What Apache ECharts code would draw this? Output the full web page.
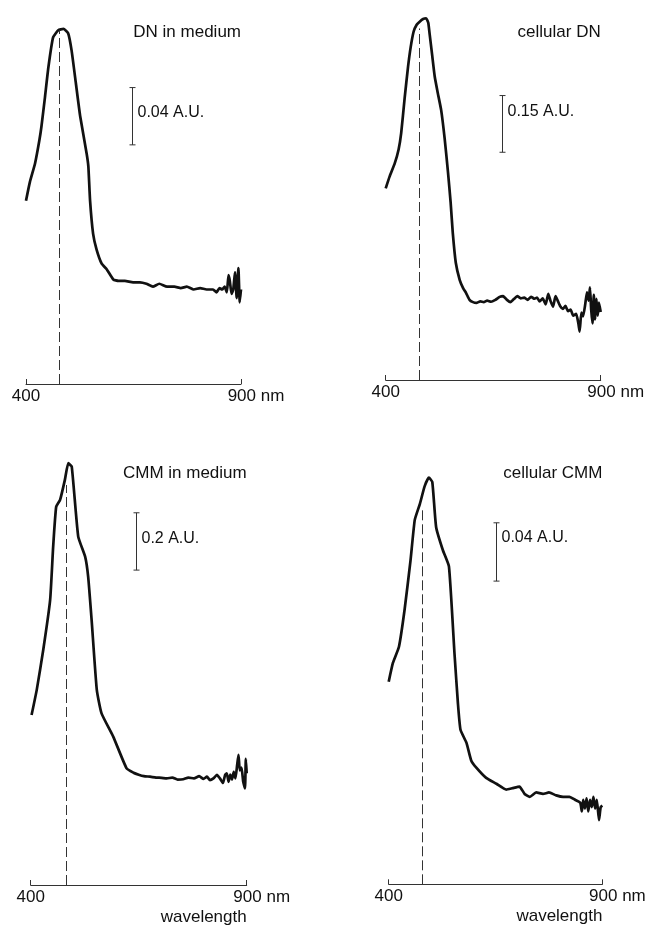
<!DOCTYPE html>
<html>
<head>
<meta charset="utf-8">
<script src="https://cdn.jsdelivr.net/npm/echarts@6/dist/echarts.min.js"></script>
<style>
  html, body { margin: 0; padding: 0; background: #fff; }
  #chart { width: 646px; height: 925px; }
</style>
</head>
<body>
<div id="chart"></div>
<script>
// ---------- Data (wavelength in nm, absorbance in A.U. above the baseline axis) ----------
const panelTitles = ['DN in medium', 'cellular DN', 'CMM in medium', 'cellular CMM'];
const xTickLabels = ['400', '900 nm'];
const axisName = 'wavelength';

const wl1 = [400,409,421,431,436,444,452,463,475,487,498,506,516,526,541,545,549,556,564,576,588,603,615,630,649,665,680,695,710,728,745,760,774,790,805,820,835,843,850,856,862,867,871,874,878,882,886,890,894,897,900];
const ab1 = [0.128,0.141,0.154,0.170,0.180,0.200,0.221,0.242,0.247,0.248,0.245,0.233,0.210,0.187,0.161,0.152,0.128,0.105,0.094,0.084,0.080,0.073,0.072,0.072,0.071,0.071,0.070,0.068,0.070,0.068,0.068,0.067,0.068,0.066,0.067,0.066,0.066,0.064,0.067,0.066,0.068,0.064,0.076,0.072,0.063,0.066,0.078,0.060,0.081,0.057,0.066];

const wl2 = [400,409,421,430,436,444,452,458,465,472,479,487,494,499,502,508,514,521,529,537,545,551,556,563,572,580,587,595,603,611,620,628,636,645,655,665,673,682,690,698,706,714,722,730,738,746,752,758,765,772,778,783,789,795,800,806,812,818,824,830,836,843,848,851,855,859,864,868,872,875,878,881,884,887,890,893,896,900];
const ab2 = [0.507,0.538,0.573,0.610,0.653,0.745,0.829,0.880,0.922,0.940,0.948,0.955,0.957,0.945,0.917,0.860,0.803,0.760,0.714,0.640,0.548,0.470,0.389,0.310,0.265,0.243,0.230,0.212,0.206,0.204,0.208,0.206,0.210,0.207,0.212,0.220,0.222,0.212,0.206,0.214,0.222,0.216,0.218,0.212,0.220,0.215,0.218,0.208,0.216,0.200,0.228,0.210,0.194,0.222,0.210,0.195,0.188,0.196,0.182,0.186,0.170,0.175,0.150,0.128,0.178,0.168,0.200,0.232,0.210,0.245,0.185,0.150,0.225,0.160,0.215,0.170,0.205,0.180];

const wl3 = [402,414,429,445,452,459,468,479,487,495,510,526,533,541,553,564,591,622,638,650,662,676,690,703,715,728,740,753,765,778,790,800,808,815,823,831,838,845,850,854,858,862,866,870,874,878,881,884,888,892,896,898,900];
const ab3 = [0.593,0.681,0.820,0.995,1.181,1.320,1.344,1.413,1.472,1.460,1.216,1.146,1.076,0.925,0.681,0.599,0.518,0.407,0.392,0.385,0.380,0.378,0.375,0.374,0.372,0.375,0.368,0.369,0.375,0.372,0.380,0.370,0.378,0.366,0.372,0.384,0.372,0.356,0.384,0.390,0.360,0.385,0.368,0.395,0.372,0.420,0.454,0.400,0.410,0.360,0.337,0.440,0.390];

const wl4 = [400,410,424,437,451,461,473,484,494,502,511,527,541,554,562,568,582,593,605,628,652,675,690,706,718,730,745,761,775,792,808,823,836,848,852,855,859,863,867,871,875,879,883,887,892,896,900];
const ab4 = [0.139,0.152,0.163,0.188,0.222,0.250,0.261,0.273,0.279,0.276,0.245,0.229,0.218,0.158,0.124,0.106,0.097,0.085,0.080,0.073,0.069,0.065,0.066,0.067,0.062,0.060,0.063,0.062,0.063,0.061,0.060,0.060,0.058,0.056,0.050,0.058,0.052,0.059,0.050,0.058,0.053,0.060,0.052,0.058,0.044,0.053,0.054];

// dashed peak marker: wavelength and height where it meets the curve
const peakWl = [477, 477, 482, 479];
const peakAb = [0.247, 0.930, 1.396, 0.258];

// absorbance scale bars: wavelength position, lower end, size (A.U.), label
const barWl = [646, 670, 644, 652];
const barLow = [0.167, 0.6025, 1.099, 0.208];
const barSize = [0.04, 0.15, 0.2, 0.04];
const barLabels = ['0.04 A.U.', '0.15 A.U.', '0.2 A.U.', '0.04 A.U.'];

// y-axis extents (A.U.)
const yMax = [0.25, 1.0, 1.5, 0.3];

// ---------- Layout / style ----------
const grids = [
  { left: 26,    top: 26,    width: 215,   height: 358 },
  { left: 385.7, top: 2,     width: 215,   height: 378 },
  { left: 30.7,  top: 455.2, width: 216,   height: 429.8 },
  { left: 388.7, top: 447,   width: 213.7, height: 437.3 }
];
const labelFrac = [0.43, 0.28, 0.45, 0.26];
const FONT = 'Liberation Sans, Arial, sans-serif';
const INK = '#111';

const wls = [wl1, wl2, wl3, wl4];
const abs = [ab1, ab2, ab3, ab4];

const chart = echarts.init(document.getElementById('chart'), null, { renderer: 'canvas' });

const option = {
  backgroundColor: '#fff',
  animation: false,
  title: grids.map((g, i) => ({
    text: panelTitles[i],
    right: 646 - (g.left + g.width),
    top: i < 2 ? 24 : 465,
    padding: 0,
    textStyle: { fontFamily: FONT, fontSize: 17, fontWeight: 'normal', color: INK }
  })),
  grid: grids.map(g => Object.assign({ outerBoundsMode: 'none', containLabel: false }, g)),
  xAxis: grids.map((g, i) => ({
    type: 'value', gridIndex: i, min: 400, max: 900, interval: 500,
    axisLine: { show: true, onZero: false, lineStyle: { color: '#333', width: 1 } },
    axisTick: { show: true, inside: true, length: 5, lineStyle: { color: '#333', width: 1 } },
    splitLine: { show: false },
    axisLabel: {
      show: true, margin: 4, showMinLabel: true, showMaxLabel: true,
      fontFamily: FONT, fontSize: 17, color: INK,
      formatter: v => v === 900 ? '{p| }' + xTickLabels[1] : xTickLabels[0],
      rich: { p: { width: 30 } }
    },
    name: i >= 2 ? axisName : '',
    nameLocation: 'end',
    nameGap: 0,
    nameTextStyle: { fontFamily: FONT, fontSize: 17, color: INK, align: 'right', verticalAlign: 'top', padding: [24, 0, 0, 0] }
  })),
  yAxis: grids.map((g, i) => ({
    type: 'value', gridIndex: i, min: 0, max: yMax[i], show: false
  })),
  series: []
};

for (let i = 0; i < 4; i++) {
  option.series.push({
    type: 'line',
    xAxisIndex: i, yAxisIndex: i,
    data: wls[i].map((w, j) => [w, abs[i][j]]),
    showSymbol: false,
    symbol: 'none',
    clip: false,
    smooth: 0.15,
    lineStyle: { color: INK, width: 2.7, join: 'round' },
    markLine: {
      silent: true,
      symbol: 'none',
      label: { show: false },
      lineStyle: { color: '#333', width: 1, type: [10, 4] },
      data: [[{ coord: [peakWl[i], 0] }, { coord: [peakWl[i], peakAb[i]] }]]
    }
  });
  option.series.push({
    type: 'custom',
    xAxisIndex: i, yAxisIndex: i,
    silent: true,
    encode: { x: 0, y: [1, 2] },
    data: [[barWl[i], barLow[i], barLow[i] + barSize[i]]],
    renderItem: (params, api) => {
      const lo = api.coord([api.value(0), api.value(1)]);
      const hi = api.coord([api.value(0), api.value(2)]);
      const x = Math.round(lo[0]) + 0.5;
      const st = { stroke: '#333', lineWidth: 1 };
      const ly = hi[1] + (lo[1] - hi[1]) * labelFrac[i];
      return {
        type: 'group',
        children: [
          { type: 'line', shape: { x1: x, y1: lo[1], x2: x, y2: hi[1] }, style: st },
          { type: 'line', shape: { x1: x - 3, y1: lo[1], x2: x + 3, y2: lo[1] }, style: st },
          { type: 'line', shape: { x1: x - 3, y1: hi[1], x2: x + 3, y2: hi[1] }, style: st },
          { type: 'text', style: { text: barLabels[i], x: x + 5, y: ly, fill: INK,
              font: '16px ' + FONT, verticalAlign: 'middle', align: 'left' } }
        ]
      };
    }
  });
}

chart.setOption(option);
</script>
</body>
</html>
